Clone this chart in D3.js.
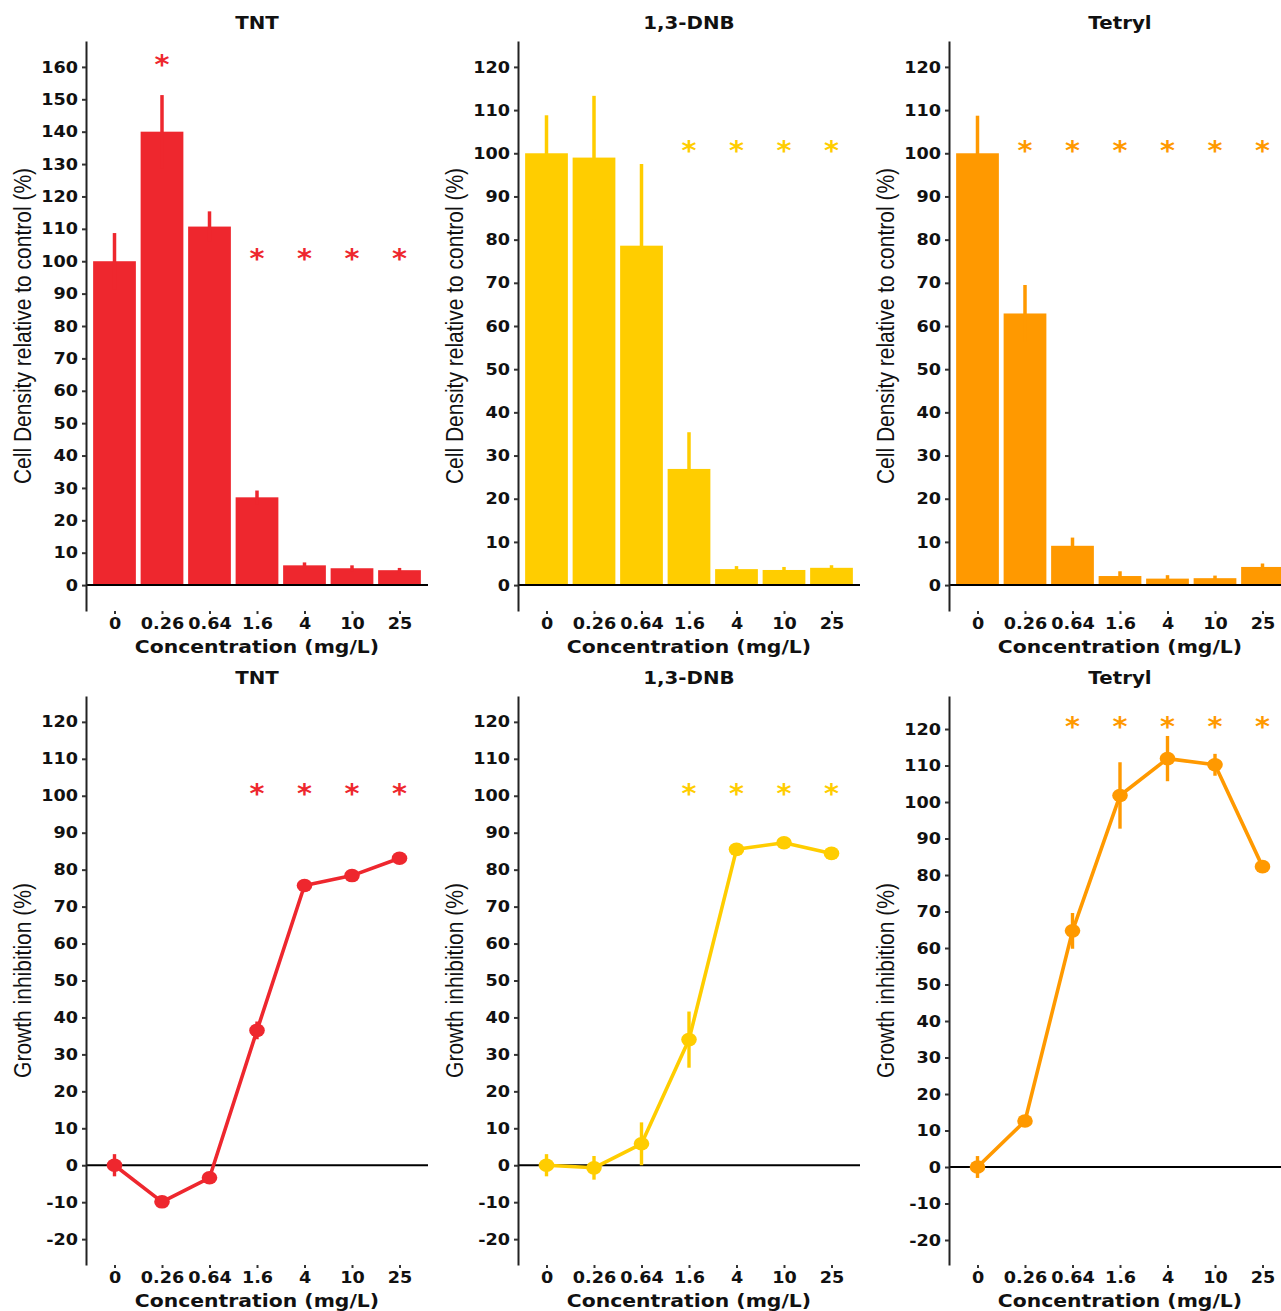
<!DOCTYPE html>
<html>
<head>
<meta charset="utf-8">
<script src="https://cdn.jsdelivr.net/npm/d3@7"></script>
<style>
  body { margin: 0; background: #fff; }
  svg { display: block; }
</style>
</head>
<body>
<svg id="chart" width="1281" height="1311"></svg>
<script>
// ---------------- data ----------------
const concentrations = ["0", "0.26", "0.64", "1.6", "4", "10", "25"];
const compounds = ["TNT", "1,3-DNB", "Tetryl"];
const compoundColors = ["#ee272e", "#ffcd00", "#ff9900"];

// Cell density relative to control (%) : mean and standard error
const densityTNT       = [100, 140, 110.7, 27.1, 6.1, 5.2, 4.6];
const densitySeTNT     = [8.7, 11.3, 4.7, 2.1, 0.9, 0.9, 0.7];
const densityDNB       = [100, 99.0, 78.6, 26.9, 3.7, 3.5, 4.0];
const densitySeDNB     = [8.8, 14.3, 18.9, 8.5, 0.7, 0.7, 0.6];
const densityTetryl    = [100, 62.9, 9.1, 2.1, 1.5, 1.6, 4.2];
const densitySeTetryl  = [8.7, 6.6, 1.9, 1.1, 0.8, 0.6, 0.8];

// Growth inhibition (%) : mean and standard error
const inhibitionTNT      = [0, -9.9, -3.4, 36.5, 75.7, 78.4, 83.1];
const inhibitionSeTNT    = [3.0, 1.5, 0.6, 2.4, 1.5, 1.5, 1.0];
const inhibitionDNB      = [0, -0.7, 5.8, 34.0, 85.5, 87.3, 84.4];
const inhibitionSeDNB    = [3.0, 3.2, 5.8, 7.6, 1.0, 1.5, 0.8];
const inhibitionTetryl   = [0, 12.6, 64.7, 101.8, 111.9, 110.2, 82.3];
const inhibitionSeTetryl = [3.0, 1.0, 4.9, 9.1, 6.2, 3.0, 0.5];

// significance markers (y level of the asterisk, null = none)
const sigDensityTNT      = [null, 160, null, 100, 100, 100, 100];
const sigDensityDNB      = [null, null, null, 100, 100, 100, 100];
const sigDensityTetryl   = [null, 100, 100, 100, 100, 100, 100];
const sigInhibitionTNT   = [null, null, null, 100, 100, 100, 100];
const sigInhibitionDNB   = [null, null, null, 100, 100, 100, 100];
const sigInhibitionTetryl= [null, null, 120, 120, 120, 120, 120];

// axis domains and ticks
const densityDomains    = [[-8, 168], [-6, 126], [-6, 126]];
const densityTicks      = [d3.range(0, 161, 10), d3.range(0, 121, 10), d3.range(0, 121, 10)];
const inhibitionDomains = [[-27, 127], [-27, 127], [-26.85, 129.05]];
const inhibitionTicks   = d3.range(-20, 121, 10);

const densityTitle    = "Cell Density relative to control (%)";
const inhibitionTitle = "Growth inhibition (%)";
const xTitle          = "Concentration (mg/L)";

// ---------------- layout ----------------
const svg = d3.select("#chart");
const panelLeft = [86, 518, 949];
const panelWidth = 342;
const rows = [{ top: 41, bottom: 611 }, { top: 696, bottom: 1265 }];
const STRETCH = 1.1;
const TICK_FONT = 16;

const densityData = [
  [densityTNT, densitySeTNT, sigDensityTNT],
  [densityDNB, densitySeDNB, sigDensityDNB],
  [densityTetryl, densitySeTetryl, sigDensityTetryl]
];
const inhibitionData = [
  [inhibitionTNT, inhibitionSeTNT, sigInhibitionTNT],
  [inhibitionDNB, inhibitionSeDNB, sigInhibitionDNB],
  [inhibitionTetryl, inhibitionSeTetryl, sigInhibitionTetryl]
];

function drawFrame(g, x, y, row, ticks, yTitle, title, left) {
  // y axis
  const ya = g.append("g").attr("transform", `translate(${left},0)`)
    .call(d3.axisLeft(y).tickValues(ticks).tickFormat(d => String(d))
      .tickSize(4).tickPadding(4).tickSizeOuter(0));
  ya.select(".domain").attr("stroke", "#222").attr("stroke-width", 2);
  ya.selectAll(".tick line").attr("stroke", "#333").attr("stroke-width", 2);
  ya.selectAll(".tick text").attr("class", "stretch")
    .attr("font-family", "DejaVu Sans").attr("font-weight", "bold")
    .attr("font-size", TICK_FONT).attr("fill", "#111");
  ya.attr("font-size", null).attr("font-family", null);

  // x axis (ticks only)
  const xa = g.append("g").attr("transform", `translate(0,${row.bottom})`)
    .call(d3.axisBottom(x).tickSize(3).tickPadding(4).tickSizeOuter(0));
  xa.select(".domain").remove();
  xa.selectAll(".tick line").attr("stroke", "#333").attr("stroke-width", 2);
  xa.selectAll(".tick text").attr("class", "stretch")
    .attr("font-family", "DejaVu Sans").attr("font-weight", "bold")
    .attr("font-size", TICK_FONT).attr("fill", "#111");
  xa.attr("font-size", null).attr("font-family", null);

  const cx = left + panelWidth / 2;
  // panel title
  g.append("text").attr("class", "stretch")
    .attr("x", cx).attr("y", row.top - 12)
    .attr("text-anchor", "middle")
    .attr("font-family", "DejaVu Sans").attr("font-weight", "bold")
    .attr("font-size", 18).attr("fill", "#111")
    .text(title);
  // x title
  g.append("text").attr("class", "stretch")
    .attr("x", cx).attr("y", row.bottom + 42)
    .attr("text-anchor", "middle")
    .attr("font-family", "DejaVu Sans").attr("font-weight", "bold")
    .attr("font-size", 18.5).attr("fill", "#111")
    .text(xTitle);
  // y title
  const cy = (row.top + row.bottom) / 2;
  g.append("text")
    .attr("transform", `translate(${left - 63},${cy}) rotate(-90) scale(1,${STRETCH})`)
    .attr("text-anchor", "middle").attr("dy", "0.36em")
    .attr("font-family", "Liberation Sans, Arial, sans-serif")
    .attr("font-size", 21).attr("fill", "#111")
    .text(yTitle);
}

function drawStars(g, x, y, sig, color) {
  const pts = concentrations.map((c, i) => ({ c, v: sig[i] })).filter(d => d.v !== null);
  g.selectAll(null).data(pts).enter().append("text")
    .attr("class", "stretch")
    .attr("x", d => x(d.c)).attr("y", d => y(d.v))
    .attr("dy", 7)
    .attr("text-anchor", "middle")
    .attr("font-family", "DejaVu Sans").attr("font-weight", "bold").attr("font-size", 26)
    .attr("fill", color)
    .text("*");
}

// ---------------- top row: bar charts ----------------
compounds.forEach((name, k) => {
  const left = panelLeft[k];
  const row = rows[0];
  const color = compoundColors[k];
  const [vals, se, sig] = densityData[k];
  const g = svg.append("g");
  const x = d3.scalePoint().domain(concentrations).range([left, left + panelWidth]).padding(0.6);
  const y = d3.scaleLinear().domain(densityDomains[k]).range([row.bottom, row.top]);
  const bw = x.step() * 0.9;
  const data = concentrations.map((c, i) => ({ c, v: vals[i], se: se[i] }));

  g.selectAll(null).data(data).enter().append("rect")
    .attr("x", d => x(d.c) - bw / 2).attr("width", bw)
    .attr("y", d => y(d.v)).attr("height", d => y(0) - y(d.v))
    .attr("fill", color);
  g.selectAll(null).data(data).enter().append("line")
    .attr("x1", d => x(d.c)).attr("x2", d => x(d.c))
    .attr("y1", d => y(d.v - d.se)).attr("y2", d => y(d.v + d.se))
    .attr("stroke", color).attr("stroke-width", 3.5);
  // baseline at 0
  g.append("line").attr("x1", left).attr("x2", left + panelWidth)
    .attr("y1", y(0)).attr("y2", y(0)).attr("stroke", "#000").attr("stroke-width", 2);

  drawStars(g, x, y, sig, color);
  drawFrame(g, x, y, row, densityTicks[k], densityTitle, name, left);
});

// ---------------- bottom row: line charts ----------------
compounds.forEach((name, k) => {
  const left = panelLeft[k];
  const row = rows[1];
  const color = compoundColors[k];
  const [vals, se, sig] = inhibitionData[k];
  const g = svg.append("g");
  const x = d3.scalePoint().domain(concentrations).range([left, left + panelWidth]).padding(0.6);
  const y = d3.scaleLinear().domain(inhibitionDomains[k]).range([row.bottom, row.top]);
  const data = concentrations.map((c, i) => ({ c, v: vals[i], se: se[i] }));

  g.append("line").attr("x1", left).attr("x2", left + panelWidth)
    .attr("y1", y(0)).attr("y2", y(0)).attr("stroke", "#000").attr("stroke-width", 2);

  g.append("path").datum(data)
    .attr("fill", "none").attr("stroke", color).attr("stroke-width", 3.6)
    .attr("stroke-linejoin", "round")
    .attr("d", d3.line().x(d => x(d.c)).y(d => y(d.v)));
  g.selectAll(null).data(data).enter().append("line")
    .attr("x1", d => x(d.c)).attr("x2", d => x(d.c))
    .attr("y1", d => y(d.v - d.se)).attr("y2", d => y(d.v + d.se))
    .attr("stroke", color).attr("stroke-width", 3.4);
  g.selectAll(null).data(data).enter().append("ellipse")
    .attr("cx", d => x(d.c)).attr("cy", d => y(d.v))
    .attr("rx", 7.8).attr("ry", 6.8)
    .attr("fill", color);

  drawStars(g, x, y, sig, color);
  drawFrame(g, x, y, row, inhibitionTicks, inhibitionTitle, name, left);
});

// horizontal stretch of text to match the reference proportions
svg.selectAll("text.stretch").each(function () {
  const w = this.getComputedTextLength();
  if (w > 0) {
    d3.select(this).attr("textLength", w * STRETCH).attr("lengthAdjust", "spacingAndGlyphs");
  }
});
</script>
</body>
</html>
